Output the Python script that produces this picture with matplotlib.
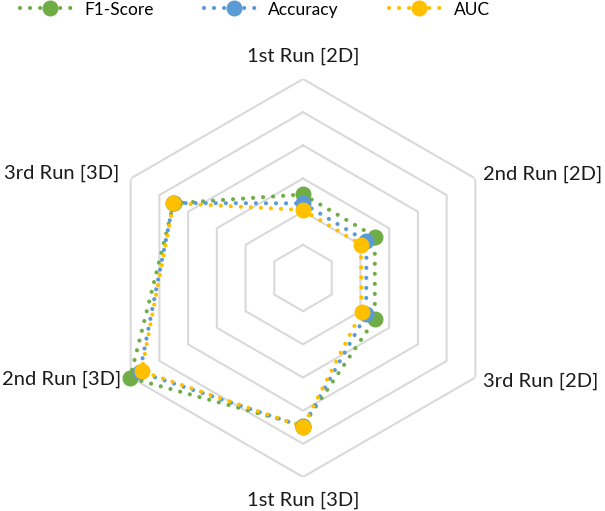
import numpy as np
import matplotlib
matplotlib.use("Agg")
import matplotlib.pyplot as plt
from matplotlib.lines import Line2D

categories = ["1st Run [2D]", "2nd Run [2D]", "3rd Run [2D]",
              "1st Run [3D]", "2nd Run [3D]", "3rd Run [3D]"]
f1_score = [2.52, 2.50, 2.50, 4.45, 6.02, 4.50]
accuracy = [2.25, 2.21, 2.20, 4.48, 5.68, 4.52]
auc = [2.05, 2.02, 2.04, 4.48, 5.62, 4.51]
ring_levels = [1, 2, 3, 4, 5, 6]
series_names = ["F1-Score", "Accuracy", "AUC"]
series_colors = ["#70AD47", "#5B9BD5", "#FFC000"]

plt.rcParams['font.family'] = ['Lato', 'DejaVu Sans']

W, H = 605, 511
fig = plt.figure(figsize=(W / 100, H / 100), dpi=100)
cx, cy, R = 303, 278, 199
ax = fig.add_axes([(cx - R) / W, (H - cy - R) / H, 2 * R / W, 2 * R / H],
                  projection='polar')
ax.set_theta_offset(np.pi / 2)
ax.set_theta_direction(-1)
ax.set_ylim(0, ring_levels[-1])
ax.grid(False)
ax.spines['polar'].set_visible(False)
ax.set_xticks([])
ax.set_yticks([])
ax.patch.set_alpha(0)

n = len(categories)
theta = np.arange(n) * 2 * np.pi / n
theta_c = np.append(theta, theta[0])

for lev in ring_levels:
    ax.plot(theta_c, [lev] * (n + 1), color="#D9D9D9", lw=1.5, zorder=1,
            solid_joinstyle='miter')

handles = []
for vals, name, col in zip([f1_score, accuracy, auc], series_names, series_colors):
    v = np.append(vals, vals[0])
    ax.plot(theta_c, v, color=col, lw=3.0, linestyle=(0, (0.01, 2.4)),
            dash_capstyle='round', zorder=3, clip_on=False)
    ax.plot(theta, vals, linestyle='none', marker='o', markersize=10.5,
            color=col, zorder=4, clip_on=False)
    handles.append(Line2D([0], [0], color=col, lw=3.0, linestyle=(0, (0.01, 2.4)),
                          dash_capstyle='round', marker='o', markersize=10.5))

# category labels
offsets = [(0, 23, 'center', 'center'),
           (8, 4, 'left', 'center'),
           (8, -4, 'left', 'center'),
           (0, -23, 'center', 'center'),
           (-9, -2, 'right', 'center'),
           (-11, 5, 'right', 'center')]
for t, lab, (dx, dy, ha, va) in zip(theta, categories, offsets):
    ax.annotate(lab, xy=(t, ring_levels[-1]), xytext=(dx, dy),
                textcoords='offset pixels', ha=ha, va=va, fontsize=14.5,
                color="#1a1a1a", annotation_clip=False)

fig.legend(handles, series_names, loc='upper left', bbox_to_anchor=(20 / W, 0.997),
           ncol=3, frameon=False, fontsize=12.5, handlelength=3.4,
           columnspacing=2.9, handletextpad=0.3, borderpad=0.0,
           borderaxespad=0.0)

fig.savefig("out.png", dpi=100)
